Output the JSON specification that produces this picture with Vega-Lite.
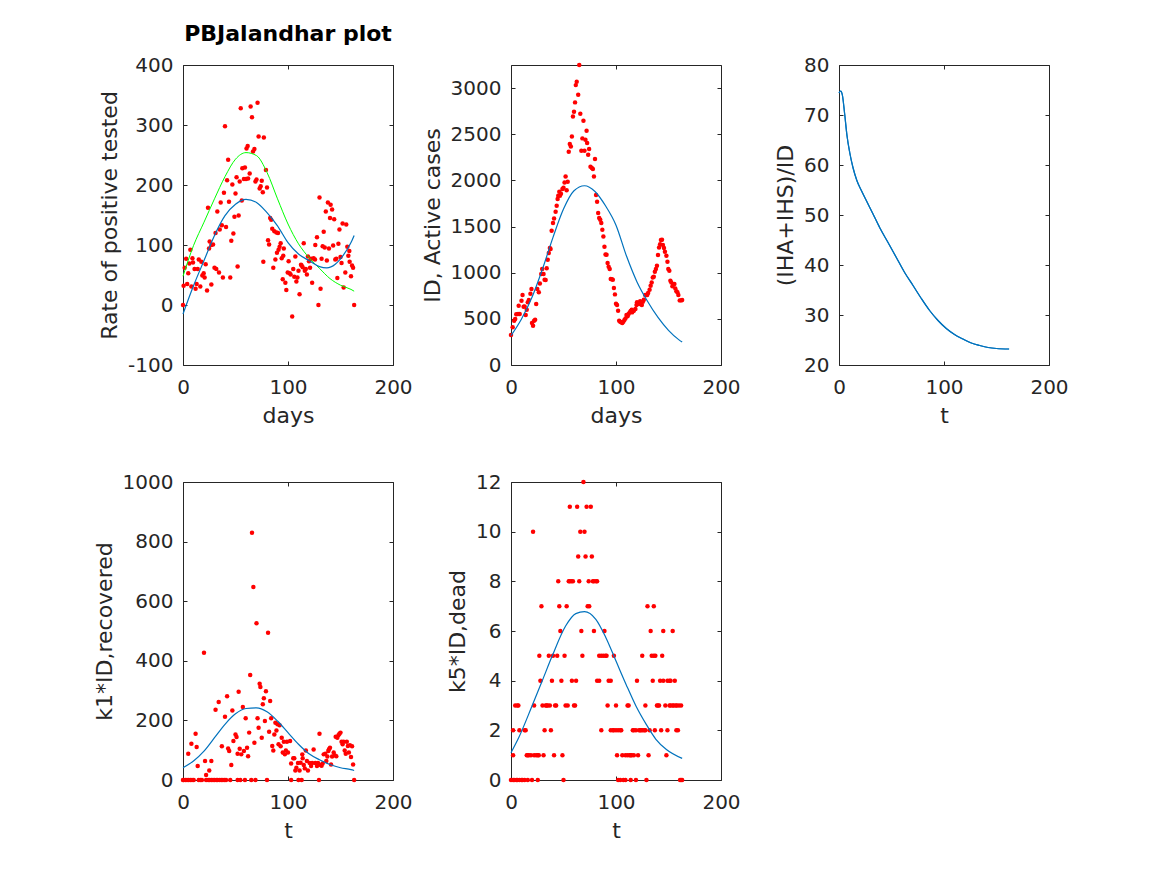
{
  "$schema": "https://vega.github.io/schema/vega-lite/v6.json",
  "padding": {"left": 92, "top": 22, "right": 5, "bottom": 5},
  "background": "white",
  "config": {
    "font": "DejaVu Sans",
    "view": {"stroke": "#262626", "strokeWidth": 1},
    "axis": {
      "grid": false, "domain": false, "tickColor": "#262626", "tickSize": -4, "tickWidth": 1,
      "labelFontSize": 20, "labelColor": "#262626", "labelPadding": 14, "labelFlush": false, "labelOverlap": false,
      "labelExpr": "'' + datum.value",
      "titleFontSize": 22, "titleFontWeight": "normal", "titleColor": "#262626", "titlePadding": 6
    },
    "axisX": {"labelPadding": 16, "titlePadding": 8},
    "title": {"fontSize": 22, "fontWeight": "bold", "color": "#000000", "offset": 9}
  },
  "datasets": {
    "p1": [
      {"t":0,"v":0},{"t":0.6,"v":32},{"t":1.6,"v":62},{"t":3,"v":77},{"t":4,"v":35},{"t":5,"v":53},{"t":6,"v":69},{"t":7,"v":92},{"t":8,"v":31},{"t":9,"v":78},{"t":9.5,"v":71},{"t":11,"v":60},{"t":12,"v":27},{"t":13,"v":35},{"t":14,"v":60},{"t":15,"v":76},{"t":16.5,"v":31},{"t":17.5,"v":72},{"t":18.4,"v":49},{"t":19.7,"v":53},{"t":20.6,"v":46},{"t":21.6,"v":68},{"t":22.9,"v":24},{"t":23.8,"v":162},{"t":24.8,"v":94},{"t":25.4,"v":106},{"t":27,"v":100},{"t":27,"v":34},{"t":28.6,"v":101},{"t":30,"v":62},{"t":31,"v":120},{"t":31.7,"v":60},{"t":32.7,"v":156},{"t":34.3,"v":54},{"t":35,"v":126},{"t":35.9,"v":171},{"t":37,"v":133},{"t":38,"v":46},{"t":39,"v":187},{"t":40,"v":298},{"t":41,"v":130},{"t":42,"v":208},{"t":43,"v":242},{"t":43.8,"v":172},{"t":45,"v":46},{"t":46,"v":107},{"t":47,"v":201},{"t":48,"v":119},{"t":49,"v":147},{"t":50,"v":186},{"t":51,"v":213},{"t":52,"v":64},{"t":53,"v":149},{"t":54,"v":206},{"t":55,"v":328},{"t":56,"v":174},{"t":56.5,"v":228},{"t":58,"v":210},{"t":59,"v":229},{"t":60,"v":210},{"t":60.5,"v":261},{"t":61.6,"v":265},{"t":62,"v":211},{"t":63.5,"v":219},{"t":64.4,"v":331},{"t":65.7,"v":313},{"t":66.7,"v":256},{"t":68,"v":260},{"t":69,"v":206},{"t":70,"v":209},{"t":71,"v":337},{"t":72,"v":281},{"t":73,"v":194},{"t":74,"v":198},{"t":75,"v":207},{"t":76,"v":188},{"t":76.5,"v":72},{"t":77,"v":279},{"t":79,"v":225},{"t":80,"v":196},{"t":81,"v":108},{"t":82,"v":101},{"t":83,"v":145},{"t":84,"v":142},{"t":85,"v":127},{"t":86,"v":62},{"t":87,"v":123},{"t":88,"v":76},{"t":89,"v":121},{"t":89.5,"v":87},{"t":90.5,"v":120},{"t":91,"v":92},{"t":92,"v":97},{"t":93,"v":103},{"t":94,"v":78},{"t":95,"v":43},{"t":95.5,"v":82},{"t":96,"v":94},{"t":97.5,"v":37},{"t":98.4,"v":25},{"t":99.7,"v":54},{"t":100.6,"v":73},{"t":101.6,"v":53},{"t":102.5,"v":51},{"t":104,"v":-19},{"t":105,"v":60},{"t":106,"v":47},{"t":107,"v":81},{"t":108,"v":39},{"t":109,"v":46},{"t":110,"v":57},{"t":111,"v":18},{"t":112.4,"v":67},{"t":113,"v":66},{"t":114,"v":63},{"t":115,"v":103},{"t":116,"v":57},{"t":117,"v":60},{"t":118,"v":51},{"t":119,"v":81},{"t":120,"v":73},{"t":121,"v":62},{"t":122,"v":77},{"t":123,"v":37},{"t":124.4,"v":78},{"t":125.7,"v":76},{"t":126,"v":100},{"t":127.6,"v":113},{"t":129,"v":0},{"t":130,"v":179},{"t":131,"v":27},{"t":132,"v":77},{"t":133,"v":98},{"t":134,"v":122},{"t":135,"v":96},{"t":136,"v":156},{"t":137,"v":74},{"t":138,"v":171},{"t":139,"v":94},{"t":140,"v":145},{"t":140.6,"v":167},{"t":142,"v":159},{"t":143,"v":99},{"t":144,"v":143},{"t":145,"v":76},{"t":146,"v":77},{"t":147,"v":45},{"t":148,"v":102},{"t":149,"v":126},{"t":150,"v":80},{"t":151,"v":70},{"t":152,"v":136},{"t":153,"v":29},{"t":154.6,"v":54},{"t":155.5,"v":134},{"t":156.5,"v":97},{"t":157.5,"v":82},{"t":158.4,"v":90},{"t":158.7,"v":72},{"t":160,"v":48},{"t":161,"v":66},{"t":162,"v":62},{"t":163,"v":0}
    ],
    "p1g": [
      {"t":0,"v":48},{"t":10,"v":99},{"t":20,"v":138},{"t":30,"v":177},{"t":40,"v":214},{"t":50,"v":243},{"t":60,"v":254},{"t":70,"v":249},{"t":80,"v":221},{"t":90,"v":177},{"t":100,"v":135},{"t":110,"v":102},{"t":120,"v":79},{"t":130,"v":61},{"t":140,"v":44},{"t":150,"v":33},{"t":160,"v":26},{"t":163,"v":23}
    ],
    "p1b": [
      {"t":0,"v":-15},{"t":10,"v":32},{"t":20,"v":74},{"t":30,"v":116},{"t":40,"v":149},{"t":50,"v":168},{"t":60,"v":176},{"t":70,"v":171},{"t":80,"v":154},{"t":90,"v":132},{"t":100,"v":104},{"t":110,"v":85},{"t":120,"v":74},{"t":130,"v":64},{"t":137,"v":62},{"t":145,"v":68},{"t":150,"v":77},{"t":160,"v":104},{"t":163,"v":116}
    ],
    "p2": [
      {"t":0,"v":325},{"t":1.6,"v":408},{"t":3,"v":480},{"t":4,"v":498},{"t":5,"v":549},{"t":6.7,"v":552},{"t":7.3,"v":643},{"t":8.3,"v":552},{"t":10,"v":697},{"t":11,"v":758},{"t":12,"v":632},{"t":13,"v":635},{"t":14,"v":541},{"t":15,"v":599},{"t":16,"v":679},{"t":17,"v":704},{"t":18.5,"v":773},{"t":19.5,"v":823},{"t":20,"v":455},{"t":21,"v":426},{"t":22,"v":480},{"t":23,"v":491},{"t":24,"v":661},{"t":25,"v":823},{"t":26.5,"v":787},{"t":27.5,"v":884},{"t":28.8,"v":986},{"t":29.7,"v":1040},{"t":31,"v":986},{"t":32,"v":924},{"t":33,"v":921},{"t":34,"v":1047},{"t":35,"v":1141},{"t":36,"v":1213},{"t":37,"v":1267},{"t":37.7,"v":1256},{"t":38.7,"v":1455},{"t":40,"v":1538},{"t":41,"v":1588},{"t":42.5,"v":1660},{"t":43.5,"v":1725},{"t":44.4,"v":1798},{"t":45,"v":1834},{"t":46,"v":1877},{"t":46.6,"v":1834},{"t":47.6,"v":1855},{"t":49,"v":1906},{"t":50,"v":1920},{"t":51,"v":1978},{"t":52,"v":2043},{"t":53,"v":1892},{"t":54,"v":1985},{"t":55,"v":2310},{"t":56,"v":2393},{"t":57,"v":2368},{"t":58,"v":2476},{"t":59,"v":2693},{"t":60,"v":2744},{"t":61,"v":2845},{"t":61.7,"v":3032},{"t":62.6,"v":3068},{"t":64,"v":2928},{"t":65,"v":3249},{"t":66,"v":2722},{"t":67,"v":2321},{"t":68,"v":2455},{"t":69,"v":2646},{"t":70,"v":2321},{"t":70.9,"v":2440},{"t":72,"v":2538},{"t":72.5,"v":2404},{"t":73.5,"v":2278},{"t":74.4,"v":2339},{"t":75.7,"v":2148},{"t":77,"v":2133},{"t":78,"v":2123},{"t":79,"v":2043},{"t":80,"v":2231},{"t":81,"v":1841},{"t":82,"v":1769},{"t":83,"v":1646},{"t":84,"v":1592},{"t":85,"v":1574},{"t":86,"v":1538},{"t":87,"v":1466},{"t":88,"v":1393},{"t":89,"v":1282},{"t":90,"v":1198},{"t":91,"v":1195},{"t":92,"v":1105},{"t":93,"v":1065},{"t":94,"v":1040},{"t":95,"v":931},{"t":96,"v":928},{"t":97,"v":924},{"t":98,"v":834},{"t":99,"v":765},{"t":100,"v":664},{"t":101,"v":650},{"t":102,"v":588},{"t":103,"v":480},{"t":104,"v":469},{"t":105,"v":462},{"t":106,"v":455},{"t":107,"v":469},{"t":108,"v":487},{"t":109,"v":505},{"t":110,"v":541},{"t":111,"v":527},{"t":112,"v":552},{"t":113,"v":570},{"t":114,"v":585},{"t":115,"v":599},{"t":115.3,"v":570},{"t":116,"v":581},{"t":117,"v":588},{"t":118.5,"v":606},{"t":119.5,"v":650},{"t":120,"v":679},{"t":121,"v":671},{"t":122,"v":661},{"t":123,"v":690},{"t":124.6,"v":650},{"t":125.6,"v":686},{"t":126.5,"v":708},{"t":127.8,"v":758},{"t":128.8,"v":758},{"t":129.7,"v":758},{"t":130.6,"v":780},{"t":132,"v":816},{"t":133,"v":859},{"t":134,"v":895},{"t":135,"v":949},{"t":136,"v":957},{"t":137,"v":1011},{"t":138,"v":1040},{"t":139,"v":1076},{"t":140,"v":1191},{"t":141,"v":1274},{"t":142,"v":1307},{"t":142.8,"v":1354},{"t":143.8,"v":1357},{"t":144.7,"v":1300},{"t":145.7,"v":1267},{"t":146.6,"v":1227},{"t":148,"v":1184},{"t":149,"v":1119},{"t":149.8,"v":1040},{"t":150.8,"v":1022},{"t":151.8,"v":913},{"t":152.7,"v":895},{"t":153.7,"v":852},{"t":154.6,"v":874},{"t":155.6,"v":877},{"t":156.5,"v":830},{"t":157.5,"v":798},{"t":158.5,"v":787},{"t":159.4,"v":758},{"t":160.7,"v":700},{"t":162,"v":700},{"t":163,"v":704}
    ],
    "p2b": [
      {"t":0,"v":318},{"t":10,"v":498},{"t":20,"v":733},{"t":30,"v":1040},{"t":40,"v":1383},{"t":50,"v":1690},{"t":60,"v":1888},{"t":70,"v":1942},{"t":80,"v":1880},{"t":90,"v":1725},{"t":100,"v":1515},{"t":110,"v":1180},{"t":120,"v":900},{"t":130,"v":690},{"t":140,"v":515},{"t":150,"v":375},{"t":160,"v":272},{"t":163,"v":248}
    ],
    "p3": [
      {"t":0,"v":74.4},{"t":1.6,"v":74.8},{"t":3.2,"v":74.0},{"t":5.4,"v":70.2},{"t":7.6,"v":65.9},{"t":10.2,"v":62.5},{"t":13.3,"v":59.5},{"t":17,"v":56.9},{"t":21.3,"v":54.9},{"t":26,"v":52.9},{"t":32.4,"v":50.2},{"t":38.7,"v":47.5},{"t":46.7,"v":44.5},{"t":54.6,"v":41.5},{"t":62.5,"v":38.5},{"t":70.5,"v":35.9},{"t":78.4,"v":33.3},{"t":86.3,"v":30.9},{"t":94.3,"v":28.9},{"t":102.2,"v":27.3},{"t":110,"v":26.1},{"t":118,"v":25.2},{"t":126,"v":24.4},{"t":134,"v":23.9},{"t":142,"v":23.5},{"t":150,"v":23.3},{"t":162,"v":23.2}
    ],
    "p4": [
      {"t":0,"v":0},{"t":0.6,"v":0},{"t":2.2,"v":0},{"t":3.8,"v":0},{"t":5.4,"v":0},{"t":7,"v":0},{"t":8.6,"v":0},{"t":10.2,"v":0},{"t":15,"v":0},{"t":16.5,"v":0},{"t":18,"v":0},{"t":22,"v":0},{"t":24,"v":0},{"t":25.4,"v":0},{"t":27,"v":0},{"t":28.6,"v":0},{"t":30,"v":0},{"t":31.7,"v":0},{"t":33,"v":0},{"t":35,"v":0},{"t":36.5,"v":0},{"t":38,"v":0},{"t":39.7,"v":0},{"t":41,"v":0},{"t":45,"v":0},{"t":52,"v":0},{"t":54.6,"v":0},{"t":59,"v":0},{"t":65,"v":0},{"t":69,"v":0},{"t":80,"v":0},{"t":103,"v":0},{"t":110,"v":0},{"t":113,"v":0},{"t":129.5,"v":0},{"t":163,"v":0},
      {"t":5,"v":88},{"t":8,"v":122},{"t":12,"v":155},{"t":13,"v":111},{"t":14,"v":47},{"t":20,"v":427},{"t":21,"v":64},{"t":22,"v":17},{"t":25,"v":32},{"t":27,"v":64},{"t":31,"v":236},{"t":34,"v":262},{"t":37,"v":113},{"t":40,"v":212},{"t":42,"v":281},{"t":43,"v":106},{"t":44,"v":97},{"t":46,"v":50},{"t":47,"v":233},{"t":48,"v":131},{"t":50,"v":153},{"t":51,"v":144},{"t":52,"v":88},{"t":53,"v":296},{"t":54,"v":105},{"t":55.5,"v":86},{"t":57,"v":245},{"t":58,"v":97},{"t":59.7,"v":207},{"t":61,"v":108},{"t":62,"v":80},{"t":63,"v":159},{"t":64,"v":352},{"t":65.7,"v":830},{"t":67,"v":648},{"t":68,"v":125},{"t":70,"v":526},{"t":71,"v":207},{"t":72,"v":175},{"t":73,"v":323},{"t":73.7,"v":312},{"t":75,"v":142},{"t":76,"v":254},{"t":77,"v":274},{"t":78,"v":198},{"t":79,"v":298},{"t":81,"v":494},{"t":82,"v":162},{"t":83,"v":265},{"t":84,"v":207},{"t":85,"v":114},{"t":86,"v":99},{"t":87,"v":153},{"t":88,"v":192},{"t":89,"v":166},{"t":90,"v":187},{"t":91,"v":120},{"t":92,"v":184},{"t":93,"v":113},{"t":94,"v":142},{"t":95,"v":92},{"t":96,"v":128},{"t":97,"v":86},{"t":98,"v":99},{"t":99,"v":128},{"t":100,"v":92},{"t":102,"v":131},{"t":103,"v":55},{"t":105,"v":73},{"t":106,"v":73},{"t":107,"v":32},{"t":108,"v":41},{"t":109.5,"v":57},{"t":111,"v":32},{"t":112,"v":58},{"t":113.6,"v":86},{"t":114,"v":73},{"t":115,"v":50},{"t":116,"v":39},{"t":117,"v":99},{"t":118,"v":64},{"t":119,"v":32},{"t":120.6,"v":57},{"t":122,"v":47},{"t":123,"v":57},{"t":124.4,"v":102},{"t":126,"v":57},{"t":127.6,"v":47},{"t":128.6,"v":57},{"t":130,"v":155},{"t":131,"v":50},{"t":132,"v":48},{"t":133,"v":55},{"t":134,"v":86},{"t":135.5,"v":88},{"t":136.5,"v":64},{"t":137.5,"v":79},{"t":138.4,"v":97},{"t":139,"v":103},{"t":140,"v":108},{"t":141,"v":52},{"t":142,"v":79},{"t":143.5,"v":92},{"t":144.4,"v":83},{"t":145.4,"v":145},{"t":146,"v":80},{"t":147,"v":142},{"t":148,"v":150},{"t":149,"v":155},{"t":150,"v":159},{"t":151,"v":128},{"t":152,"v":120},{"t":153,"v":128},{"t":154,"v":99},{"t":155,"v":88},{"t":156,"v":128},{"t":157,"v":114},{"t":158,"v":92},{"t":159,"v":117},{"t":160,"v":77},{"t":161,"v":113},{"t":162,"v":52}
    ],
    "p4b": [
      {"t":0,"v":41},{"t":10,"v":64},{"t":20,"v":97},{"t":30,"v":142},{"t":40,"v":187},{"t":50,"v":222},{"t":60,"v":240},{"t":70,"v":242},{"t":80,"v":229},{"t":90,"v":198},{"t":100,"v":159},{"t":110,"v":120},{"t":120,"v":88},{"t":130,"v":68},{"t":140,"v":52},{"t":150,"v":41},{"t":160,"v":35},{"t":163,"v":32}
    ],
    "p5": [
      {"t":69,"v":12},
      {"t":56,"v":11},{"t":63,"v":11},{"t":72,"v":11},{"t":76,"v":11},
      {"t":21,"v":10},{"t":66,"v":10},{"t":70,"v":10},
      {"t":64,"v":9},{"t":71,"v":9},{"t":77,"v":9},
      {"t":45,"v":8},{"t":55,"v":8},{"t":56,"v":8},{"t":57.5,"v":8},{"t":59,"v":8},{"t":65,"v":8},{"t":74,"v":8},{"t":78,"v":8},{"t":79,"v":8},{"t":81,"v":8},{"t":82,"v":8},
      {"t":29,"v":7},{"t":46,"v":7},{"t":53,"v":7},{"t":73,"v":7},{"t":74.5,"v":7},{"t":130,"v":7},{"t":136,"v":7},
      {"t":47,"v":6},{"t":67,"v":6},{"t":79,"v":6},{"t":89,"v":6},{"t":133,"v":6},{"t":145,"v":6},{"t":154,"v":6},
      {"t":27,"v":5},{"t":36,"v":5},{"t":40,"v":5},{"t":44,"v":5},{"t":51,"v":5},{"t":68,"v":5},{"t":84,"v":5},{"t":86,"v":5},{"t":88,"v":5},{"t":90,"v":5},{"t":91,"v":5},{"t":98,"v":5},{"t":125,"v":5},{"t":134,"v":5},{"t":136,"v":5},{"t":137.5,"v":5},{"t":144,"v":5},
      {"t":28,"v":4},{"t":39,"v":4},{"t":48,"v":4},{"t":58,"v":4},{"t":62,"v":4},{"t":82,"v":4},{"t":84,"v":4},{"t":93,"v":4},{"t":95,"v":4},{"t":120,"v":4},{"t":135,"v":4},{"t":142,"v":4},{"t":145,"v":4},{"t":149,"v":4},{"t":151,"v":4},{"t":152,"v":4},{"t":156,"v":4},
      {"t":4,"v":3},{"t":6,"v":3},{"t":7,"v":3},{"t":22,"v":3},{"t":30,"v":3},{"t":33,"v":3},{"t":34,"v":3},{"t":35,"v":3},{"t":37,"v":3},{"t":42,"v":3},{"t":43,"v":3},{"t":52,"v":3},{"t":54,"v":3},{"t":60,"v":3},{"t":61,"v":3},{"t":92,"v":3},{"t":100,"v":3},{"t":111,"v":3},{"t":112,"v":3},{"t":128,"v":3},{"t":139,"v":3},{"t":140,"v":3},{"t":141,"v":3},{"t":147,"v":3},{"t":151,"v":3},{"t":152,"v":3},{"t":154,"v":3},{"t":155,"v":3},{"t":157,"v":3},{"t":158,"v":3},{"t":160,"v":3},{"t":162,"v":3},
      {"t":2,"v":2},{"t":8,"v":2},{"t":13,"v":2},{"t":14,"v":2},{"t":32,"v":2},{"t":38,"v":2},{"t":86,"v":2},{"t":95,"v":2},{"t":97,"v":2},{"t":98,"v":2},{"t":100,"v":2},{"t":102,"v":2},{"t":104,"v":2},{"t":105,"v":2},{"t":116,"v":2},{"t":117,"v":2},{"t":119,"v":2},{"t":122,"v":2},{"t":123,"v":2},{"t":124,"v":2},{"t":125.5,"v":2},{"t":127,"v":2},{"t":128,"v":2},{"t":132,"v":2},{"t":137,"v":2},{"t":143,"v":2},{"t":149,"v":2},{"t":157.5,"v":2},{"t":159,"v":2},
      {"t":2,"v":1},{"t":15,"v":1},{"t":16,"v":1},{"t":17,"v":1},{"t":19,"v":1},{"t":22,"v":1},{"t":24,"v":1},{"t":25.5,"v":1},{"t":26.5,"v":1},{"t":31,"v":1},{"t":41,"v":1},{"t":49,"v":1},{"t":101,"v":1},{"t":106,"v":1},{"t":109,"v":1},{"t":111,"v":1},{"t":113,"v":1},{"t":114,"v":1},{"t":115,"v":1},{"t":117,"v":1},{"t":121,"v":1},{"t":131,"v":1},{"t":148,"v":1},
      {"t":0,"v":0},{"t":2,"v":0},{"t":3,"v":0},{"t":5,"v":0},{"t":6,"v":0},{"t":8,"v":0},{"t":10,"v":0},{"t":11,"v":0},{"t":13,"v":0},{"t":16,"v":0},{"t":20,"v":0},{"t":25.5,"v":0},{"t":50,"v":0},{"t":102,"v":0},{"t":104,"v":0},{"t":107,"v":0},{"t":109,"v":0},{"t":114,"v":0},{"t":119,"v":0},{"t":129,"v":0},{"t":161,"v":0},{"t":162,"v":0},{"t":163,"v":0}
    ],
    "p5b": [
      {"t":0,"v":1.1},{"t":7.3,"v":1.7},{"t":20,"v":2.98},{"t":29.7,"v":3.99},{"t":39.3,"v":5.0},{"t":52,"v":6.2},{"t":61.7,"v":6.7},{"t":70,"v":6.78},{"t":80.8,"v":6.47},{"t":90.4,"v":5.73},{"t":100,"v":4.79},{"t":109.6,"v":3.85},{"t":119,"v":2.98},{"t":128.8,"v":2.24},{"t":138,"v":1.64},{"t":148,"v":1.23},{"t":163,"v":0.87}
    ]
  },
  "columns": 3,
  "spacing": {"row": 117, "column": 118},
  "bounds": "flush",
  "concat": [
    {
      "width": 210, "height": 300,
      "title": "PBJalandhar plot",
      "layer": [
        {
          "data": {"name": "p1"},
          "mark": {"type": "circle", "size": 20, "color": "#ff0000", "opacity": 1},
          "encoding": {
            "x": {"field": "t", "type": "quantitative", "scale": {"domain": [0, 200], "nice": false}, "axis": {"values": [0, 100, 200], "title": "days"}},
            "y": {"field": "v", "type": "quantitative", "scale": {"domain": [-100, 400], "nice": false, "zero": false}, "axis": {"values": [-100, 0, 100, 200, 300, 400], "title": "Rate of positive tested"}}
          }
        },
        {
          "data": {"name": "p1g"},
          "mark": {"type": "line", "color": "#00ff00", "strokeWidth": 1, "interpolate": "monotone"},
          "encoding": {
            "x": {"field": "t", "type": "quantitative", "axis": null},
            "y": {"field": "v", "type": "quantitative", "axis": null}
          }
        },
        {
          "data": {"name": "p1b"},
          "mark": {"type": "line", "color": "#0072bd", "strokeWidth": 1.2, "interpolate": "monotone"},
          "encoding": {
            "x": {"field": "t", "type": "quantitative", "axis": {"orient": "top", "values": [0, 100, 200], "labels": false, "title": null}},
            "y": {"field": "v", "type": "quantitative", "axis": {"orient": "right", "values": [-100, 0, 100, 200, 300, 400], "labels": false, "title": null}}
          }
        }
      ],
      "resolve": {"axis": {"x": "independent", "y": "independent"}}
    },
    {
      "width": 210, "height": 300,
      "layer": [
        {
          "data": {"name": "p2"},
          "mark": {"type": "circle", "size": 20, "color": "#ff0000", "opacity": 1},
          "encoding": {
            "x": {"field": "t", "type": "quantitative", "scale": {"domain": [0, 200], "nice": false}, "axis": {"values": [0, 100, 200], "title": "days"}},
            "y": {"field": "v", "type": "quantitative", "scale": {"domain": [0, 3250], "nice": false}, "axis": {"values": [0, 500, 1000, 1500, 2000, 2500, 3000], "title": "ID, Active cases"}}
          }
        },
        {
          "data": {"name": "p2b"},
          "mark": {"type": "line", "color": "#0072bd", "strokeWidth": 1.2, "interpolate": "monotone"},
          "encoding": {
            "x": {"field": "t", "type": "quantitative", "axis": {"orient": "top", "values": [0, 100, 200], "labels": false, "title": null}},
            "y": {"field": "v", "type": "quantitative", "axis": {"orient": "right", "values": [0, 500, 1000, 1500, 2000, 2500, 3000], "labels": false, "title": null}}
          }
        }
      ],
      "resolve": {"axis": {"x": "independent", "y": "independent"}}
    },
    {
      "width": 210, "height": 300,
      "layer": [
        {
          "data": {"name": "p3"},
          "mark": {"type": "line", "color": "#0072bd", "strokeWidth": 1.2, "interpolate": "monotone"},
          "encoding": {
            "x": {"field": "t", "type": "quantitative", "scale": {"domain": [0, 200], "nice": false}, "axis": {"values": [0, 100, 200], "title": "t"}},
            "y": {"field": "v", "type": "quantitative", "scale": {"domain": [20, 80], "nice": false, "zero": false}, "axis": {"values": [20, 30, 40, 50, 60, 70, 80], "title": "(IHA+IHS)/ID"}}
          }
        },
        {
          "data": {"name": "p3"},
          "mark": {"type": "line", "color": "#0072bd", "strokeWidth": 1.2, "interpolate": "monotone"},
          "encoding": {
            "x": {"field": "t", "type": "quantitative", "axis": {"orient": "top", "values": [0, 100, 200], "labels": false, "title": null}},
            "y": {"field": "v", "type": "quantitative", "axis": {"orient": "right", "values": [20, 30, 40, 50, 60, 70, 80], "labels": false, "title": null}}
          }
        }
      ],
      "resolve": {"axis": {"x": "independent", "y": "independent"}}
    },
    {
      "width": 210, "height": 298,
      "layer": [
        {
          "data": {"name": "p4"},
          "mark": {"type": "circle", "size": 20, "color": "#ff0000", "opacity": 1},
          "encoding": {
            "x": {"field": "t", "type": "quantitative", "scale": {"domain": [0, 200], "nice": false}, "axis": {"values": [0, 100, 200], "title": "t"}},
            "y": {"field": "v", "type": "quantitative", "scale": {"domain": [0, 1000], "nice": false}, "axis": {"values": [0, 200, 400, 600, 800, 1000], "title": "k1*ID,recovered"}}
          }
        },
        {
          "data": {"name": "p4b"},
          "mark": {"type": "line", "color": "#0072bd", "strokeWidth": 1.2, "interpolate": "monotone"},
          "encoding": {
            "x": {"field": "t", "type": "quantitative", "axis": {"orient": "top", "values": [0, 100, 200], "labels": false, "title": null}},
            "y": {"field": "v", "type": "quantitative", "axis": {"orient": "right", "values": [0, 200, 400, 600, 800, 1000], "labels": false, "title": null}}
          }
        }
      ],
      "resolve": {"axis": {"x": "independent", "y": "independent"}}
    },
    {
      "width": 210, "height": 298,
      "layer": [
        {
          "data": {"name": "p5"},
          "mark": {"type": "circle", "size": 20, "color": "#ff0000", "opacity": 1},
          "encoding": {
            "x": {"field": "t", "type": "quantitative", "scale": {"domain": [0, 200], "nice": false}, "axis": {"values": [0, 100, 200], "title": "t"}},
            "y": {"field": "v", "type": "quantitative", "scale": {"domain": [0, 12], "nice": false}, "axis": {"values": [0, 2, 4, 6, 8, 10, 12], "title": "k5*ID,dead"}}
          }
        },
        {
          "data": {"name": "p5b"},
          "mark": {"type": "line", "color": "#0072bd", "strokeWidth": 1.2, "interpolate": "monotone"},
          "encoding": {
            "x": {"field": "t", "type": "quantitative", "axis": {"orient": "top", "values": [0, 100, 200], "labels": false, "title": null}},
            "y": {"field": "v", "type": "quantitative", "axis": {"orient": "right", "values": [0, 2, 4, 6, 8, 10, 12], "labels": false, "title": null}}
          }
        }
      ],
      "resolve": {"axis": {"x": "independent", "y": "independent"}}
    }
  ]
}
